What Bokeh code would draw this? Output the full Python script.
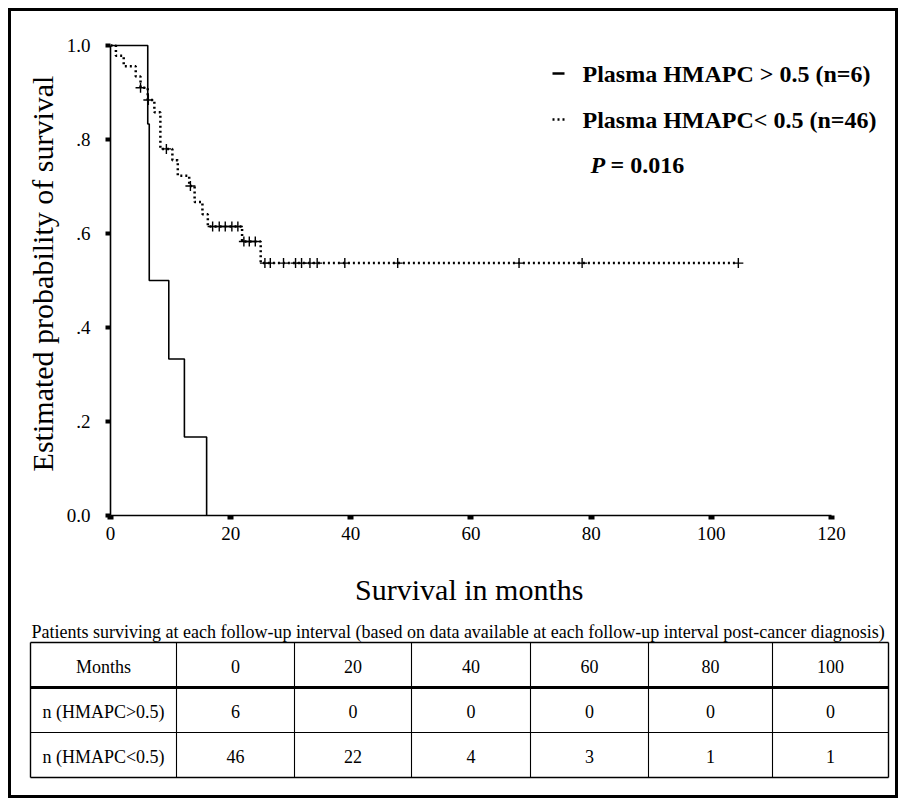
from bokeh.plotting import figure
from bokeh.models import Range1d
from bokeh.layouts import column
from bokeh.embed import file_html
from bokeh.resources import INLINE
from bokeh.core.properties import value

# ---------------- data ----------------
high_t = [0.0, 6.2, 6.45, 9.7, 12.3, 16.0]
high_s = [1.0, 0.833, 0.5, 0.333, 0.167, 0.0]

low_t = [0.0, 0.9, 2.2, 4.2, 5.0, 6.2, 7.3, 8.3, 10.3, 11.2, 13.1, 14.0, 15.3, 16.2, 21.9, 25.0]
low_s = [1.0, 0.978, 0.956, 0.934, 0.910, 0.884, 0.858, 0.780, 0.756, 0.723, 0.701, 0.667, 0.641, 0.615, 0.583, 0.537]
low_last = 104.5
low_cens = [5.0, 6.3, 9.3, 13.3, 17.0, 18.1, 19.1, 20.2, 21.2, 22.2, 23.1, 24.1,
            25.7, 26.6, 28.8, 30.8, 31.8, 33.2, 34.4, 39.0, 47.8, 68.0, 78.5, 104.5]

x_ticks = [0, 20, 40, 60, 80, 100, 120]
y_ticks = [0.0, 0.2, 0.4, 0.6, 0.8, 1.0]
y_tick_labels = ["0.0", ".2", ".4", ".6", ".8", "1.0"]
x_title = "Survival in months"
y_title = "Estimated probability of survival"

legend_labels = ["Plasma HMAPC > 0.5 (n=6)", "Plasma HMAPC< 0.5 (n=46)"]
p_value = "0.016"

table_title = ("Patients surviving at each follow-up interval (based on data available "
               "at each follow-up interval post-cancer diagnosis)")
table_months = [0, 20, 40, 60, 80, 100]
table_row_labels = ["n (HMAPC>0.5)", "n (HMAPC<0.5)"]
n_high = [6, 0, 0, 0, 0, 0]
n_low = [46, 22, 4, 3, 1, 1]

SERIF = "Liberation Serif"

# ---------------- layout constants (page pixels) ----------------
PX_PER_MONTH = 6.008
PX_PER_UNIT = 470.0
X0_PAGE = 110.0     # page x of month 0
Y0_PAGE = 515.0     # page y of survival 0
FIG_LEFT_PAGE = 11.0
FIG_TOP_PAGE = 11.0
W = 884
FRAME_LEFT = 99
TOP_PAD = 20
FRAME_H = 504 - TOP_PAD
BOTTOM_PANEL = 96
H1 = TOP_PAD + FRAME_H + BOTTOM_PANEL
H2 = 790 - 6 - H1


def dx(page_x):
    return (page_x - X0_PAGE) / PX_PER_MONTH


def dy(page_y):
    return (Y0_PAGE - page_y) / PX_PER_UNIT


# ---------------- survival chart ----------------
p1 = figure(width=W, height=H1, output_backend="svg", toolbar_location=None,
            x_range=Range1d(0, (W - FRAME_LEFT) / PX_PER_MONTH),
            y_range=Range1d(0, FRAME_H / PX_PER_UNIT),
            min_border_left=FRAME_LEFT, min_border_right=0, min_border_top=TOP_PAD,
            min_border_bottom=BOTTOM_PANEL, frame_align=False)
p1.outline_line_color = None
p1.grid.visible = False
p1.background_fill_color = "white"
p1.border_fill_color = "white"

# step curves
p1.step(high_t, high_s, mode="after", line_color="black", line_width=1.6)
p1.step(low_t + [low_last], low_s + [low_s[-1]], mode="after", line_color="black",
        line_width=2.5, line_dash="2 3")

# censor marks
cens_y = []
for t in low_cens:
    lvl = low_s[0]
    for tt, ss in zip(low_t, low_s):
        if tt <= t:
            lvl = ss
    cens_y.append(lvl)
p1.scatter(low_cens, cens_y, marker="cross", size=10, line_color="black", line_width=1.4)

# axes
for ax in (p1.xaxis[0], p1.yaxis[0]):
    ax.axis_line_width = 1.6
    ax.axis_line_color = "black"
    ax.major_tick_in = 0
    ax.minor_tick_in = 0
    ax.minor_tick_out = 0
    ax.major_label_text_font = SERIF
    ax.major_label_text_color = "black"
    ax.axis_label_text_font = SERIF
    ax.axis_label_text_font_style = "normal"
    ax.axis_label_text_font_size = "30px"
    ax.axis_label_text_color = "black"

xa = p1.xaxis[0]
xa.ticker = x_ticks
xa.bounds = (0, 120)
xa.major_tick_out = 4
xa.major_tick_line_width = 6
xa.major_label_text_font_size = "19px"
xa.major_label_standoff = 7
# trailing no-break spaces centre the visible title under the 0-120 axis
xa.axis_label = x_title + "\u00a0" * 9
xa.axis_label_standoff = 30

ya = p1.yaxis[0]
ya.ticker = y_ticks
ya.bounds = (0, 1)
ya.major_label_overrides = {t: lab for t, lab in zip(y_ticks, y_tick_labels)}
ya.major_tick_out = 5
ya.major_tick_line_width = 4
ya.major_label_text_font_size = "19px"
ya.major_label_standoff = 15
ya.axis_label = y_title
ya.axis_label_standoff = 5

# legend (manual)
leg_y = [dy(73), dy(119)]
p1.line([dx(552), dx(564)], [leg_y[0], leg_y[0]], line_color="black", line_width=2.5)
p1.line([dx(552), dx(564)], [leg_y[1], leg_y[1]], line_color="black", line_width=2.5,
        line_dash="2 3")
p1.text(x=[dx(582)] * 2, y=leg_y, text=legend_labels, text_font=value(SERIF),
        text_font_style="bold", text_font_size="24px", text_baseline="middle",
        text_align="left", text_color="black")
p1.text(x=[dx(590)], y=[dy(164)], text=["P"], text_font=value(SERIF),
        text_font_style="bold italic", text_font_size="24px", text_baseline="middle",
        text_align="left", text_color="black")
p1.text(x=[dx(610)], y=[dy(164)], text=["= " + p_value], text_font=value(SERIF),
        text_font_style="bold", text_font_size="24px", text_baseline="middle",
        text_align="left", text_color="black")

# ---------------- follow-up table ----------------
T_TOP_PAGE = FIG_TOP_PAGE + H1
p2 = figure(width=W, height=H2, output_backend="svg", toolbar_location=None,
            x_range=Range1d(FIG_LEFT_PAGE, FIG_LEFT_PAGE + W),
            y_range=Range1d(T_TOP_PAGE + H2, T_TOP_PAGE),
            x_axis_type=None, y_axis_type=None, min_border=0,
            min_border_left=0, min_border_right=0, min_border_top=0,
            min_border_bottom=0, frame_align=False)
p2.outline_line_color = None
p2.grid.visible = False

col_edges = [30, 176, 294, 411, 530, 648, 772, 888]
row_edges = [642, 687, 732, 777]

p2.text(x=[31], y=[631], text=[table_title], text_font=value(SERIF),
        text_font_size="18px", text_baseline="alphabetic", text_align="left",
        text_color="black")

# horizontal rules
p2.segment(x0=[col_edges[0]] * len(row_edges), x1=[col_edges[-1]] * len(row_edges),
           y0=row_edges, y1=row_edges, line_color="black",
           line_width=[1.4, 3.0, 1.2, 1.4])
# vertical rules
p2.segment(x0=col_edges, x1=col_edges, y0=[row_edges[0]] * len(col_edges),
           y1=[row_edges[-1]] * len(col_edges), line_color="black",
           line_width=[1.4] + [1.1] * (len(col_edges) - 2) + [1.4])

cx = [(a + b) / 2 for a, b in zip(col_edges[:-1], col_edges[1:])]
cy = [(a + b) / 2 + 1.5 for a, b in zip(row_edges[:-1], row_edges[1:])]
rows = [["Months"] + [str(m) for m in table_months],
        [table_row_labels[0]] + [str(v) for v in n_high],
        [table_row_labels[1]] + [str(v) for v in n_low]]
tx, ty, tt = [], [], []
for r, row in enumerate(rows):
    for c, s in enumerate(row):
        tx.append(cx[c])
        ty.append(cy[r])
        tt.append(s)
p2.text(x=tx, y=ty, text=tt, text_font=value(SERIF), text_font_size="18px",
        text_baseline="middle", text_align="center", text_color="black")

layout = column(p1, p2, spacing=0,
                styles={"border": "3px solid black", "margin": "8px"})

open("out.html", "w").write(file_html(layout, INLINE))
